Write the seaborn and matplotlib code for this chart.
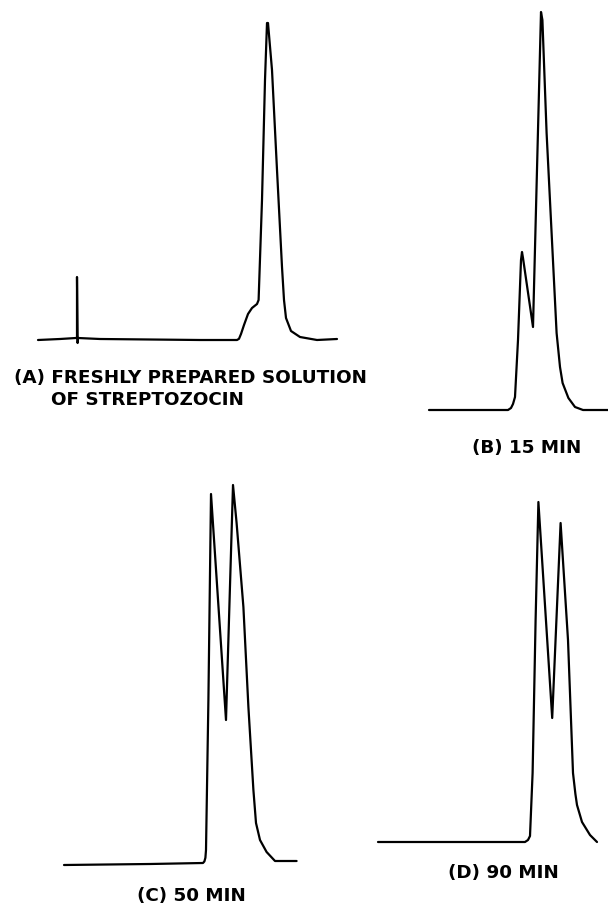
import numpy as np
import pandas as pd
import matplotlib
matplotlib.use("Agg")
import matplotlib.pyplot as plt
import seaborn as sns

# figure size in pixels (dpi 100)
W, H = 608, 907
PX_PER_MIN = 20    # chart speed: pixels per time unit
PX_PER_UNIT = 4    # pixels per detector response unit

# --- chromatogram traces (time units, detector response) ---
# (A) freshly prepared solution
a_time = [0, 1.1, 1.9, 1.95, 1.95, 1.98, 2.0, 3.1, 8.1, 9.95, 10.05, 10.15, 10.3, 10.5,
          10.7, 10.95, 11.03, 11.2, 11.35, 11.45, 11.5, 11.7, 11.95, 12.2, 12.3,
          12.4, 12.65, 13.1, 13.95, 14.95]
a_resp = [0, 0.25, 0.5, 0.5, 15.75, -0.75, 0.5, 0.25, 0, 0, 0.3, 1.5, 3.75, 6.5,
          8, 9, 10, 35, 65, 79.25, 79.25, 67.5, 42.5, 18.25, 10,
          5.5, 2.25, 0.75, 0, 0.25]

# (B) 15 min
b_time = [0, 3.95, 4.1, 4.2, 4.3, 4.45, 4.6, 4.65, 4.7, 5.2, 5.6, 5.67, 5.88, 6.13,
          6.38, 6.55, 6.68, 6.97, 7.3, 7.7, 8.95]
b_resp = [0, 0, 0.5, 1.5, 3.25, 17.5, 37.5, 39.5, 38, 20.75, 99.5, 97.5, 69.25, 44.25,
          19.25, 10.75, 6.75, 3, 0.75, 0, 0]

# (C) 50 min
c_time = [0, 4.3, 6.95, 7.02, 7.07, 7.1, 7.22, 7.35, 8.1, 8.45, 8.63, 8.97, 9.22,
          9.47, 9.6, 9.8, 10.13, 10.55, 11.63]
c_resp = [0, 0.25, 0.5, 0.9, 1.8, 3.75, 41.25, 92.75, 36.25, 95, 85.5, 64.5, 39.5,
          18.75, 10.5, 6.25, 3.25, 1, 1]

# (D) 90 min
d_time = [0, 7.35, 7.5, 7.6, 7.73, 7.88, 8.02, 8.71, 9.13, 9.5, 9.75, 9.87, 9.95,
          10.2, 10.6, 10.95]
d_resp = [0, 0, 0.5, 1.5, 17.25, 55.5, 85, 31, 79.75, 50.5, 17.25, 12, 9.25,
          5, 1.75, 0]

# baseline origin of each trace on the page (pixels, from top-left)
origins = {"A": (38, 340), "B": (429, 410), "C": (64, 865), "D": (378, 842)}

sns.set_style("white")
plt.rcParams["font.family"] = ["DejaVu Sans"]

fig = plt.figure(figsize=(W / 100, H / 100), dpi=100)


def draw_trace(key, t, r):
    x0, y0 = origins[key]
    ax = fig.add_axes([x0 / W, (H - y0) / H, 16 * PX_PER_MIN / W, 100 * PX_PER_UNIT / H])
    df = pd.DataFrame({"t": t, "r": r})
    sns.lineplot(data=df, x="t", y="r", sort=False, estimator=None,
                 color="black", linewidth=1.6, ax=ax)
    ax.set_xlim(0, 16)
    ax.set_ylim(0, 100)
    ax.axis("off")
    ax.patch.set_visible(False)
    for ln in ax.lines:
        ln.set_clip_on(False)
        ln.set_solid_joinstyle("round")


draw_trace("A", a_time, a_resp)
draw_trace("B", b_time, b_resp)
draw_trace("C", c_time, c_resp)
draw_trace("D", d_time, d_resp)

# labels (baseline positions in pixels)
txt = dict(fontsize=13.2, fontweight="bold", color="black", ha="left", va="baseline")
fig.text(14 / W, 1 - 383 / H, "(A) FRESHLY PREPARED SOLUTION", **txt)
fig.text(51 / W, 1 - 405 / H, "OF STREPTOZOCIN", **txt)
fig.text(472 / W, 1 - 453 / H, "(B) 15 MIN", **txt)
fig.text(137 / W, 1 - 901 / H, "(C) 50 MIN", **txt)
fig.text(448 / W, 1 - 878 / H, "(D) 90 MIN", **txt)

fig.savefig("out.png", dpi=100, facecolor="white")
